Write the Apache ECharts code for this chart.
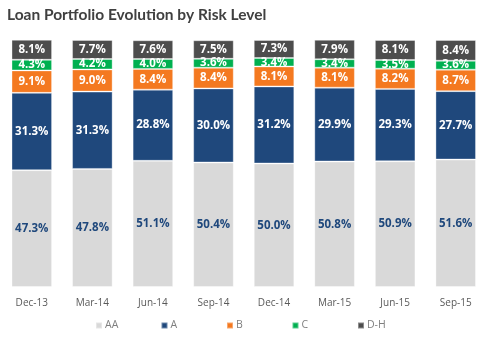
<!DOCTYPE html>
<html><head><meta charset="utf-8">
<script src="https://cdn.jsdelivr.net/npm/echarts@6/dist/echarts.min.js"></script>
<style>html,body{margin:0;padding:0;background:#fff;}#c{width:486px;height:343px;}</style>
</head><body><div id="c"></div>
<script>
const categories = ['Dec-13','Mar-14','Jun-14','Sep-14','Dec-14','Mar-15','Jun-15','Sep-15'];
const aa = [47.3,47.8,51.1,50.4,50.0,50.8,50.9,51.6];
const a  = [31.3,31.3,28.8,30.0,31.2,29.9,29.3,27.7];
const b  = [9.1,9.0,8.4,8.4,8.1,8.1,8.2,8.7];
const c  = [4.3,4.2,4.0,3.6,3.4,3.4,3.5,3.6];
const dh = [8.1,7.7,7.6,7.5,7.3,7.9,8.1,8.4];
const seriesNames = ['AA','A','B','C','D-H'];
const colors = ['#d9d9d9','#1f487c','#f47920','#00b050','#4d4d4d'];
const labelColors = ['#1f487c','#fff','#fff','#fff','#fff'];
const values = [aa,a,b,c,dh];

const chart = echarts.init(document.getElementById('c'));
chart.setOption({
  animation:false,
  title:{text:'Loan Portfolio Evolution by Risk Level',left:2,top:2,
    textStyle:{fontFamily:'Lato',fontWeight:'bold',fontSize:15.5,color:'#404040'}},
  legend: seriesNames.map((n,i)=>({left:95+i*65.5,top:320,itemWidth:6,itemHeight:6,icon:'rect',
    padding:0,itemGap:0,
    textStyle:{fontFamily:'Open Sans',fontSize:10.5,color:'#7f7f7f',padding:[0,0,0,-2]},
    data:[n]})),
  grid:{left:1.5,right:-4,top:40,bottom:56},
  xAxis:{type:'category',data:categories,axisLine:{show:false},axisTick:{show:false},
    axisLabel:{fontFamily:'Open Sans',fontSize:10,color:'#595959',margin:11}},
  yAxis:{type:'value',min:0,max:100,show:false},
  series: values.map((v,i)=>({
    name:seriesNames[i],type:'bar',stack:'s',data:v,barCategoryGap:'33%',
    itemStyle:{color:colors[i],borderColor:'rgba(255,255,255,0.35)',borderWidth:1},
    label:{show:true,position:'inside',formatter:p=>p.value.toFixed(1)+'%',
      fontFamily:'Open Sans',fontWeight:'bold',fontSize:11.5,color:labelColors[i]}
  }))
});
</script></body></html>
